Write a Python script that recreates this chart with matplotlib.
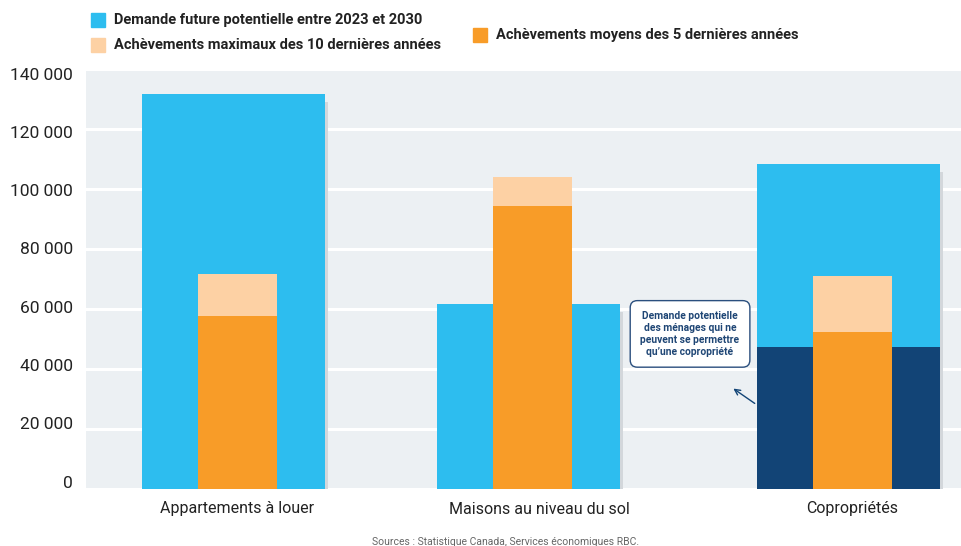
import matplotlib.pyplot as plt
import matplotlib.patheffects as pe
import matplotlib.transforms as mtransforms
from matplotlib.patches import Rectangle

plt.rcParams['font.family'] = ['Roboto', 'DejaVu Sans']

categories = ['Appartements à louer', 'Maisons au niveau du sol', 'Copropriétés']
demande_future = [131700, 61700, 108300]
achev_max_10 = [71700, 104000, 71000]
achev_moy_5 = [57700, 94400, 52400]
demande_copro_seul = [0, 0, 47400]
yticks = [0, 20000, 40000, 60000, 80000, 100000, 120000, 140000]

BLUE = '#2dbdef'
PEACH = '#fdd1a4'
ORANGE = '#f89c28'
NAVY = '#124476'
BG = '#ecf0f3'
TXT = '#222222'

fig = plt.figure(figsize=(9.61, 5.46), dpi=100)
ax = fig.add_axes([86 / 961, 57 / 546, 875 / 961, 420 / 546])
ax.set_facecolor(BG)

xpos = [0, 1, 2.085]
xblue = [x - 0.0136 for x in xpos]
xlab = [0, 1.022, 2.085]

# wide blue bars with a soft grey drop shadow
shadow = [pe.SimplePatchShadow(offset=(2.2, -5.8), shadow_rgbFace='#d3d7db', alpha=1.0),
          pe.Normal()]
ax.bar(xblue, demande_future, width=0.62, color=BLUE, zorder=3, path_effects=shadow)
ax.bar(xblue, demande_copro_seul, width=0.62, color=NAVY, zorder=4)
ax.bar(xpos, achev_max_10, width=0.268, color=PEACH, zorder=5)
ax.bar(xpos, achev_moy_5, width=0.268, color=ORANGE, zorder=6)

ax.set_xlim(-0.5136, 2.4525)
ax.set_ylim(0, 140000)
ax.set_yticks(yticks)
ax.set_yticklabels([])
ax.set_xticks(xlab)
ax.set_xticklabels(categories)
ax.tick_params(axis='y', length=0)
ax.tick_params(axis='x', length=0, pad=9, labelsize=11.5, labelcolor=TXT)
ax.grid(axis='y', color='white', linewidth=2.2, zorder=1)
ax.set_axisbelow(True)
for s in ax.spines.values():
    s.set_visible(False)

# y labels sit on a slightly tighter spacing than the grid
ytrans = ax.get_yaxis_transform()
for v in yticks:
    dy = (6 - 12 * v / 140000) / 72 * 0.72
    off = mtransforms.ScaledTranslation(0, dy, fig.dpi_scale_trans)
    ax.text(-0.0150, v, f'{v:,.0f}'.replace(',', ' '), transform=ytrans + off,
            ha='right', va='center', fontsize=12.5, color=TXT, clip_on=False)

# callout for the condo-only demand
ax.annotate('', xy=(1.673, 34000), xytext=(1.761, 28000),
            arrowprops=dict(arrowstyle='->', color=NAVY, lw=1.0), zorder=7)
ax.text(1.534, 51700,
        'Demande potentielle\ndes ménages qui ne\npeuvent se permettre\nqu\u2019une copropriété',
        ha='center', va='center', fontsize=7.4, fontweight='bold', color='#1f4675',
        linespacing=1.25, zorder=8,
        bbox=dict(boxstyle='round,pad=1.0,rounding_size=0.7', fc='white',
                  ec='#2b4f7e', lw=1.0))

# legend drawn by hand in figure pixels
W, H = 961, 546
legend = [
    (91, 20, BLUE, 'Demande future potentielle entre 2023 et 2030'),
    (91, 45, PEACH, 'Achèvements maximaux des 10 dernières années'),
    (473, 35, ORANGE, 'Achèvements moyens des 5 dernières années'),
]
for x, y, c, label in legend:
    fig.patches.append(Rectangle((x / W, (H - y - 7) / H), 14 / W, 14 / H,
                                 transform=fig.transFigure, color=c))
    fig.text((x + 23) / W, (H - y) / H, label, ha='left', va='center',
             fontsize=10.5, fontweight='bold', color=TXT)

fig.text(506 / W, (H - 542) / H, 'Sources : Statistique Canada, Services économiques RBC.',
         ha='center', va='center', fontsize=7.5, color='#666666')

fig.savefig('out.png', dpi=100)
